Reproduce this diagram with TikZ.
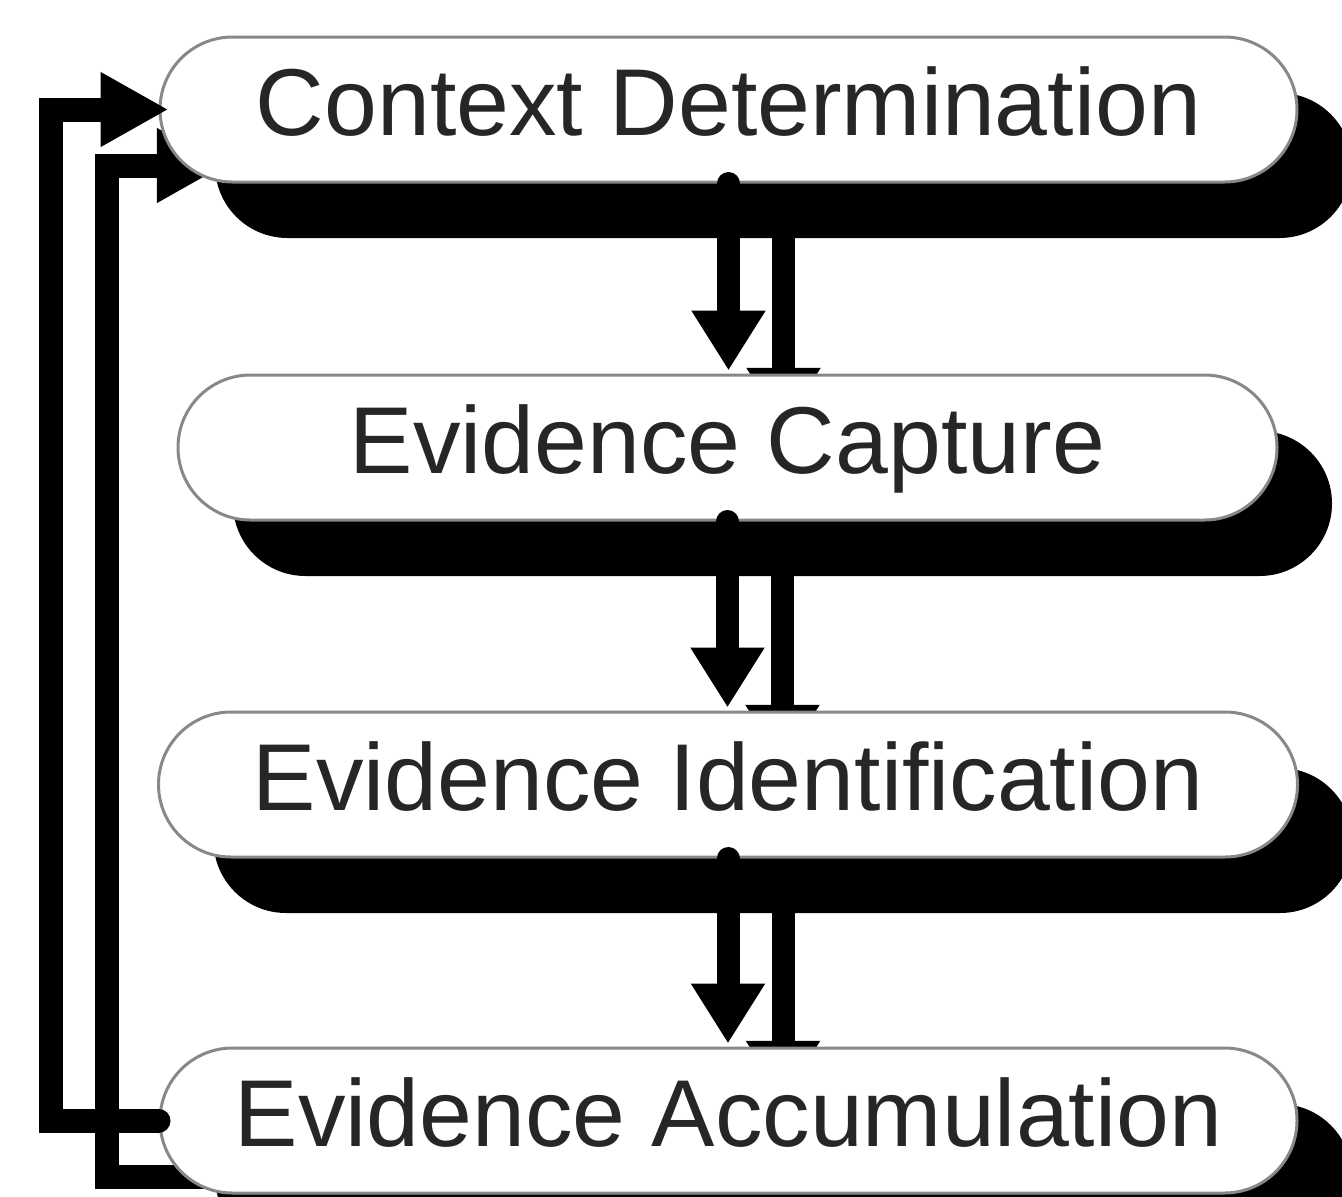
\documentclass[tikz,border=0pt]{standalone}
\usepackage{fontspec}
\setmainfont{Liberation Sans}
\usetikzlibrary{arrows.meta}
\definecolor{txt}{HTML}{262626}
\definecolor{bord}{HTML}{888888}
\tikzset{
  stagebox/.style={rounded corners=72.5pt, minimum height=145pt, inner sep=0pt,
    text height=68pt, text depth=17pt, font=\fontsize{95}{95}\selectfont, text=txt},
  realbox/.style={stagebox, draw=bord, line width=3pt, fill=white},
  shadowbox/.style={stagebox, fill=black},
  downarrow/.style={line width=23pt, line cap=round, shorten >=3pt,
    -{Triangle[width=70pt,length=60pt]}},
  backarrow/.style={line width=24pt, line cap=round, line join=miter,
    -{Triangle[width=70pt,length=68pt]}, shorten >=-10pt}
}
\begin{document}
\begin{tikzpicture}[x=1pt,y=-1pt]
\useasboundingbox (0,0) rectangle (1342,1197);
% shadows
\node[shadowbox, minimum width=1137pt] (b1s) at (783.5,165.5) {};
\node[shadowbox, minimum width=1099pt] (b2s) at (782.5,503.5) {};
\node[shadowbox, minimum width=1139pt] (b3s) at (783,840.5) {};
\node[shadowbox, minimum width=1137pt] (b4s) at (783.5,1176.5) {};
\draw[downarrow] (b1s.south) -- (b1s.south |- b2s.north);
\draw[downarrow] (b2s.south) -- (b2s.south |- b3s.north);
\draw[downarrow] (b3s.south) -- (b3s.south |- b4s.north);
\draw[backarrow] (b4s.west) -- ++(-108,0) |- (b1s.west);
% boxes
\node[realbox, minimum width=1137pt] (b1) at (728.5,109.5) {Context Determination};
\node[realbox, minimum width=1099pt] (b2) at (727.5,447.5) {Evidence Capture};
\node[realbox, minimum width=1139pt] (b3) at (728,784.5) {Evidence Identification};
\node[realbox, minimum width=1137pt] (b4) at (728.5,1120.5) {Evidence Accumulation};
% connectors
\draw[downarrow] (b1.south) -- (b1.south |- b2.north);
\draw[downarrow] (b2.south) -- (b2.south |- b3.north);
\draw[downarrow] (b3.south) -- (b3.south |- b4.north);
\draw[backarrow] (b4.west) -- ++(-108,0) |- (b1.west);
\end{tikzpicture}
\end{document}
